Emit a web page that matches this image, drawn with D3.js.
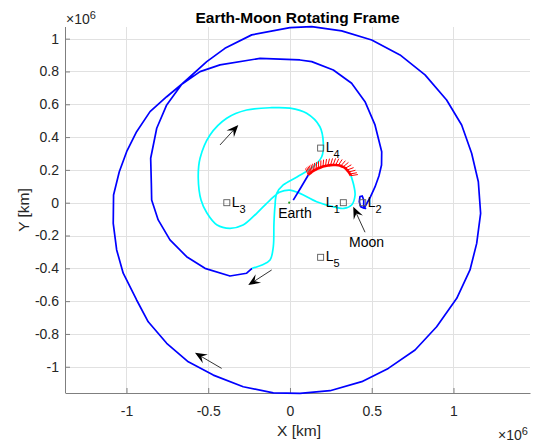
<!DOCTYPE html>
<html>
<head>
<meta charset="utf-8">
<script src="https://cdn.jsdelivr.net/npm/d3@7"></script>
<style>
body { margin: 0; background: #fff; }
svg text { font-family: "Liberation Sans", Arial, Helvetica, sans-serif; }
</style>
</head>
<body>
<svg id="chart" width="534" height="442"></svg>
<script>
// all positions in units of 1e6 km, Earth-Moon rotating frame
var xTicks = [-1, -0.5, 0, 0.5, 1];
var yTicks = [-1, -0.8, -0.6, -0.4, -0.2, 0, 0.2, 0.4, 0.6, 0.8, 1];

// departure coast from Earth up to the burn
var departLeg = [[0.020, 0.016], [0.065, 0.090], [0.112, 0.169]];

// burn arc (each sample carries a thrust tick)
var burnArc = [[0.112, 0.169], [0.118, 0.175], [0.124, 0.180], [0.130, 0.185], [0.137, 0.190],
	[0.145, 0.195], [0.154, 0.200], [0.164, 0.205], [0.175, 0.210], [0.188, 0.215], [0.202, 0.220],
	[0.217, 0.224], [0.232, 0.227], [0.248, 0.229], [0.264, 0.230], [0.280, 0.230], [0.296, 0.228],
	[0.311, 0.224], [0.325, 0.218], [0.338, 0.210], [0.349, 0.199], [0.359, 0.187], [0.367, 0.175],
	[0.373, 0.165]];

// phasing loops
var cyanLeg = [[0.373, 0.165], [0.391, 0.102], [0.398, 0.047], [0.377, -0.014], [0.330, -0.035],
	[0.286, -0.030], [0.163, 0.006], [0.061, 0.057], [0.000, 0.077], [-0.061, 0.065], [-0.122, 0.016],
	[-0.202, -0.063], [-0.287, -0.136], [-0.367, -0.156], [-0.446, -0.136], [-0.508, -0.063],
	[-0.544, 0.016], [-0.561, 0.149], [-0.550, 0.271], [-0.489, 0.413], [-0.387, 0.515],
	[-0.265, 0.565], [-0.112, 0.579], [0.000, 0.576], [0.102, 0.545], [0.183, 0.463], [0.204, 0.362],
	[0.194, 0.280], [0.143, 0.220], [0.043, 0.157], [-0.041, 0.108], [-0.081, 0.057], [-0.092, -0.024],
	[-0.098, -0.126], [-0.102, -0.268], [-0.122, -0.350], [-0.171, -0.380], [-0.232, -0.400]];

// big spiral out and back in to the Moon
var blueLeg = [[-0.232, -0.400], [-0.265, -0.430], [-0.367, -0.447], [-0.520, -0.400], [-0.632, -0.329],
	[-0.734, -0.227], [-0.806, -0.105], [-0.846, 0.016], [-0.848, 0.120], [-0.852, 0.271], [-0.815, 0.454],
	[-0.754, 0.596], [-0.662, 0.722], [-0.509, 0.860], [-0.398, 0.941], [-0.234, 1.023], [0.000, 1.067],
	[0.133, 1.073], [0.316, 1.047], [0.500, 0.992], [0.673, 0.901], [0.826, 0.779], [0.958, 0.626],
	[1.050, 0.474], [1.111, 0.301], [1.152, 0.128], [1.166, -0.065], [1.142, -0.248], [1.101, -0.410],
	[1.020, -0.583], [0.897, -0.756], [0.765, -0.898], [0.601, -1.010], [0.439, -1.091], [0.245, -1.146],
	[0.061, -1.162], [-0.102, -1.159], [-0.286, -1.122], [-0.469, -1.051], [-0.622, -0.970],
	[-0.754, -0.857], [-0.867, -0.726], [-0.938, -0.593], [-1.020, -0.430], [-1.060, -0.288],
	[-1.081, -0.126], [-1.079, 0.047], [-1.044, 0.189], [-0.999, 0.311], [-0.938, 0.433], [-0.856, 0.555],
	[-0.754, 0.646], [-0.662, 0.722], [-0.550, 0.799], [-0.428, 0.840], [-0.183, 0.880], [0.061, 0.870],
	[0.133, 0.860], [0.265, 0.809], [0.377, 0.728], [0.459, 0.616], [0.520, 0.474], [0.561, 0.311],
	[0.560, 0.230], [0.544, 0.163], [0.520, 0.096], [0.492, 0.035], [0.468, -0.008], [0.453, -0.034],
	[0.432, -0.024], [0.424, 0.006], [0.428, 0.037], [0.442, 0.041], [0.451, 0.016], [0.451, -0.024],
	[0.465, -0.038]];

var lagrangeNames = ["1", "2", "3", "4", "5"];
var lagrangeX = [0.3263, 0.4449, -0.3863, 0.1875, 0.1875];
var lagrangeY = [0, 0, 0, 0.3329, -0.3329];

var earthPos = [-0.0047, 0];

// direction arrows: tail -> tip
var arrowTails = [[-0.428, 0.352], [-0.112, -0.410], [-0.418, -1.010], [0.459, -0.180]];
var arrowTips = [[-0.316, 0.474], [-0.255, -0.502], [-0.581, -0.915], [0.387, -0.024]];


var svg = d3.select("#chart");
var plotLeft = 65, plotRight = 530, plotTop = 27, plotBottom = 393;
var axisGray = "#7f7f7f";
var textColor = "#262626";

var x = d3.scaleLinear().domain([-1.376, 1.468]).range([plotLeft, plotRight]);
var y = d3.scaleLinear().domain([-1.160, 1.071]).range([plotBottom, plotTop]);

svg.append("rect").attr("width", 534).attr("height", 442).attr("fill", "#fff");

// grid
var grid = svg.append("g").attr("stroke", "#e1e1e1").attr("stroke-width", 1);
grid.selectAll("line.gx").data(xTicks).enter().append("line")
	.attr("x1", d => Math.round(x(d)) + 0.5).attr("x2", d => Math.round(x(d)) + 0.5)
	.attr("y1", plotTop).attr("y2", plotBottom);
grid.selectAll("line.gy").data(yTicks).enter().append("line")
	.attr("y1", d => Math.round(y(d)) + 0.5).attr("y2", d => Math.round(y(d)) + 0.5)
	.attr("x1", plotLeft).attr("x2", plotRight);

var fmt = d => String(d);

var gx = svg.append("g").attr("transform", "translate(0," + plotBottom + ")")
	.call(d3.axisBottom(x).tickValues(xTicks).tickSizeInner(-5).tickSizeOuter(0).tickPadding(13).tickFormat(fmt));
var gy = svg.append("g").attr("transform", "translate(" + plotLeft + ",0)")
	.call(d3.axisLeft(y).tickValues(yTicks).tickSizeInner(-5).tickSizeOuter(0).tickPadding(6).tickFormat(fmt));

[gx, gy].forEach(function(g) {
	g.attr("font-family", null).attr("font-size", null);
	g.select(".domain").attr("stroke", axisGray);
	g.selectAll(".tick line").attr("stroke", axisGray);
	g.selectAll(".tick text").attr("fill", textColor).style("font-size", "14px");
});
gy.select(".domain").attr("d", "M0.5," + plotBottom + "V" + plotTop);


// trajectory legs
var line = d3.line().x(d => x(d[0])).y(d => y(d[1]));
var smooth = d3.line().x(d => x(d[0])).y(d => y(d[1])).curve(d3.curveCatmullRom);

svg.append("path").datum(blueLeg).attr("d", line)
	.attr("fill", "none").attr("stroke", "#0000ff").attr("stroke-width", 1.7).attr("stroke-linejoin", "round");

svg.append("path").datum(cyanLeg).attr("d", smooth)
	.attr("fill", "none").attr("stroke", "#00ffff").attr("stroke-width", 1.7);

svg.append("path").datum(departLeg).attr("d", line)
	.attr("fill", "none").attr("stroke", "#0000ff").attr("stroke-width", 1.7);

// burn: thick red arc with a thrust tick at every sample
var tickLen = 7, tilt = 22 * Math.PI / 180;
var burnG = svg.append("g").attr("stroke", "#ff0000");
burnArc.forEach(function(p, i) {
	var a = burnArc[Math.max(i - 1, 0)], b = burnArc[Math.min(i + 1, burnArc.length - 1)];
	var tx = x(b[0]) - x(a[0]), ty = y(b[1]) - y(a[1]);
	var len = Math.sqrt(tx * tx + ty * ty);
	var nx = ty / len, ny = -tx / len;
	// lean the tick a little clockwise
	var rx = nx * Math.cos(tilt) - ny * Math.sin(tilt);
	var ry = nx * Math.sin(tilt) + ny * Math.cos(tilt);
	burnG.append("line")
		.attr("x1", x(p[0])).attr("y1", y(p[1]))
		.attr("x2", x(p[0]) + rx * tickLen).attr("y2", y(p[1]) + ry * tickLen)
		.attr("stroke-width", 1);
});
burnG.append("path").datum(burnArc).attr("d", smooth)
	.attr("fill", "none").attr("stroke-width", 2.6);


// Lagrange points
var lg = svg.append("g");
lagrangeNames.forEach(function(name, i) {
	var px = x(lagrangeX[i]), py = y(lagrangeY[i]);
	lg.append("rect")
		.attr("x", px - 3).attr("y", py - 3).attr("width", 6).attr("height", 6)
		.attr("fill", "none").attr("stroke", "#5a5a5a").attr("stroke-width", 0.9);
	var onLeft = name == "1";
	var t = lg.append("text")
		.attr("x", onLeft ? px - 17.5 : px + 5)
		.attr("y", py + 4)
		.attr("fill", "#000").style("font-size", "14px");
	t.append("tspan").text("L");
	t.append("tspan").attr("dy", 6).style("font-size", "11px").text(name);
});

// Earth
svg.append("circle").attr("cx", x(earthPos[0])).attr("cy", y(earthPos[1])).attr("r", 1.1).attr("fill", "#22a022");
svg.append("text").attr("x", x(earthPos[0]) - 11).attr("y", y(earthPos[1]) + 15.5)
	.attr("fill", "#000").style("font-size", "14px").text("Earth");
svg.append("text").attr("x", 349).attr("y", 247)
	.attr("fill", "#000").style("font-size", "14px").text("Moon");


// arrows
function drawArrow(tail, tip) {
	var x0 = x(tail[0]), y0 = y(tail[1]), x1 = x(tip[0]), y1 = y(tip[1]);
	var dx = x1 - x0, dy = y1 - y0, len = Math.sqrt(dx * dx + dy * dy);
	var ux = dx / len, uy = dy / len, nx = -uy, ny = ux;
	var hl = 12, hw = 5, back = 0.62;
	var notch = [x1 - ux * hl * back, y1 - uy * hl * back];
	svg.append("line").attr("x1", x0).attr("y1", y0).attr("x2", notch[0]).attr("y2", notch[1])
		.attr("stroke", "#000").attr("stroke-width", 0.8);
	var pts = [[x1, y1],
		[x1 - ux * hl + nx * hw, y1 - uy * hl + ny * hw],
		notch,
		[x1 - ux * hl - nx * hw, y1 - uy * hl - ny * hw]];
	svg.append("polygon").attr("points", pts.map(p => p.join(",")).join(" ")).attr("fill", "#000");
}
arrowTails.forEach(function(t, i) { drawArrow(t, arrowTips[i]); });


// title, axis labels and exponents
svg.append("text").attr("x", 297.5).attr("y", 22.5).attr("text-anchor", "middle")
	.attr("fill", "#000").style("font-size", "15.5px").style("font-weight", "bold")
	.text("Earth-Moon Rotating Frame");

svg.append("text").attr("x", 299).attr("y", 436).attr("text-anchor", "middle")
	.attr("fill", textColor).style("font-size", "15.5px").text("X [km]");

svg.append("text").attr("transform", "translate(29,210) rotate(-90)").attr("text-anchor", "middle")
	.attr("fill", textColor).style("font-size", "15.5px").text("Y [km]");

function exponent(px, py) {
	var t = svg.append("text").attr("x", px).attr("y", py).attr("fill", textColor).style("font-size", "14px");
	t.append("tspan").text("\u00d710");
	t.append("tspan").attr("dy", -5).style("font-size", "11px").text("6");
}
exponent(66, 24);
exponent(498, 440);
</script>
</body>
</html>
